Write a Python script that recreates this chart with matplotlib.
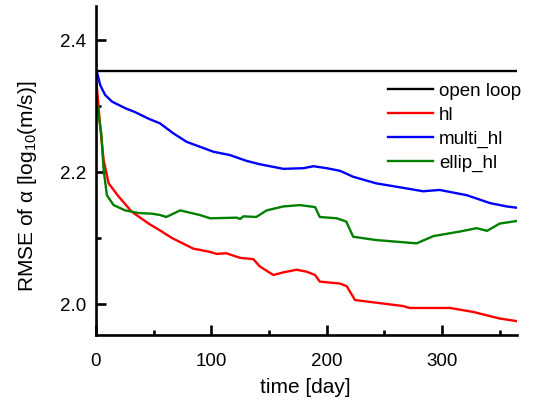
import matplotlib
matplotlib.use("Agg")
import matplotlib.pyplot as plt
from matplotlib.ticker import MultipleLocator, FormatStrFormatter

plt.rcParams['font.family'] = ['Liberation Sans', 'DejaVu Sans']
plt.rcParams['mathtext.fontset'] = 'custom'
plt.rcParams['mathtext.rm'] = 'Liberation Sans'
plt.rcParams['mathtext.it'] = 'Liberation Sans:italic'

open_loop_x = [0, 365]
open_loop_y = [2.353, 2.353]

hl_x = [0.5, 0.9, 3.7, 6.7, 11, 19.7, 31, 45.7, 57, 66, 84.4, 99, 104.7, 113, 125, 136.5,
        142, 153.8, 162.5, 174, 182.7, 190, 194, 211.6, 217.4, 224.6, 243, 266, 272, 307,
        327, 350, 365]
hl_y = [2.335, 2.327, 2.269, 2.218, 2.183, 2.163, 2.140, 2.122, 2.110, 2.100, 2.084, 2.079,
        2.076, 2.077, 2.070, 2.068, 2.057, 2.044, 2.048, 2.052, 2.049, 2.044, 2.034, 2.031,
        2.027, 2.006, 2.002, 1.997, 1.994, 1.994, 1.988, 1.978, 1.974]

multi_x = [0, 0.9, 3.7, 8, 13.9, 25.4, 34, 45.7, 55.5, 67, 78.6, 101.7, 116, 130.7, 142,
           162.5, 180, 188.5, 200, 211.6, 223, 243, 263.6, 283.6, 298, 321.5, 341.7, 356, 365]
multi_y = [2.353, 2.352, 2.332, 2.317, 2.307, 2.297, 2.291, 2.281, 2.274, 2.259, 2.246,
           2.231, 2.226, 2.217, 2.212, 2.205, 2.206, 2.209, 2.206, 2.202, 2.193, 2.183,
           2.177, 2.171, 2.173, 2.165, 2.153, 2.148, 2.146]

ellip_x = [0.5, 0.9, 4.6, 6.7, 9.5, 15.3, 25.4, 37, 48.6, 55.5, 61, 73, 90, 99, 122, 125,
           127.8, 139, 148, 162.5, 177, 190, 194, 208.8, 217, 223, 243, 278, 292.5, 315.7,
           330, 339, 350, 365]
ellip_y = [2.307, 2.304, 2.259, 2.203, 2.165, 2.150, 2.142, 2.138, 2.137, 2.135, 2.132,
           2.142, 2.135, 2.130, 2.131, 2.129, 2.133, 2.132, 2.142, 2.148, 2.150, 2.147,
           2.132, 2.130, 2.125, 2.102, 2.097, 2.092, 2.103, 2.110, 2.115, 2.111, 2.122, 2.126]

labels = ['open loop', 'hl', 'multi_hl', 'ellip_hl']
colors = ['black', '#ff0000', '#0000ff', '#008000']

fig = plt.figure(figsize=(5.33, 4.0), dpi=100)
ax = fig.add_axes([0.180, 0.1625, 0.790, 0.8225])

for (xs, ys), lab, c in zip([(open_loop_x, open_loop_y), (hl_x, hl_y),
                             (multi_x, multi_y), (ellip_x, ellip_y)], labels, colors):
    ax.plot(xs, ys, color=c, lw=1.7, label=lab)

ax.set_xlim(0, 365)
ax.set_ylim(1.953, 2.452)
ax.xaxis.set_major_locator(MultipleLocator(100))
ax.xaxis.set_minor_locator(MultipleLocator(50))
ax.yaxis.set_major_locator(MultipleLocator(0.2))
ax.yaxis.set_minor_locator(MultipleLocator(0.1))
ax.yaxis.set_major_formatter(FormatStrFormatter('%.1f'))
ax.spines['top'].set_visible(False)
ax.spines['right'].set_visible(False)
for s in ['left', 'bottom']:
    ax.spines[s].set_linewidth(1.9)
ax.tick_params(which='major', direction='in', length=7, width=1.9, labelsize=13.5)
ax.tick_params(which='minor', direction='in', length=3.5, width=1.9)
ax.tick_params(axis='y', which='major', pad=7)
ax.tick_params(axis='x', which='major', pad=13)

ax.set_xlabel('time [day]', fontsize=15)
ax.set_ylabel(r'RMSE of α [log$_{10}$(m/s)]', fontsize=15)
ax.yaxis.set_label_coords(-0.135, 0.453)
ax.xaxis.set_label_coords(0.497, -0.132)

ax.legend(loc='upper left', bbox_to_anchor=(0.694, 0.767), frameon=False, fontsize=13.5,
          handlelength=2.4, handletextpad=0.3, labelspacing=0.36, borderpad=0,
          borderaxespad=0)

fig.savefig('out.png', dpi=100)
